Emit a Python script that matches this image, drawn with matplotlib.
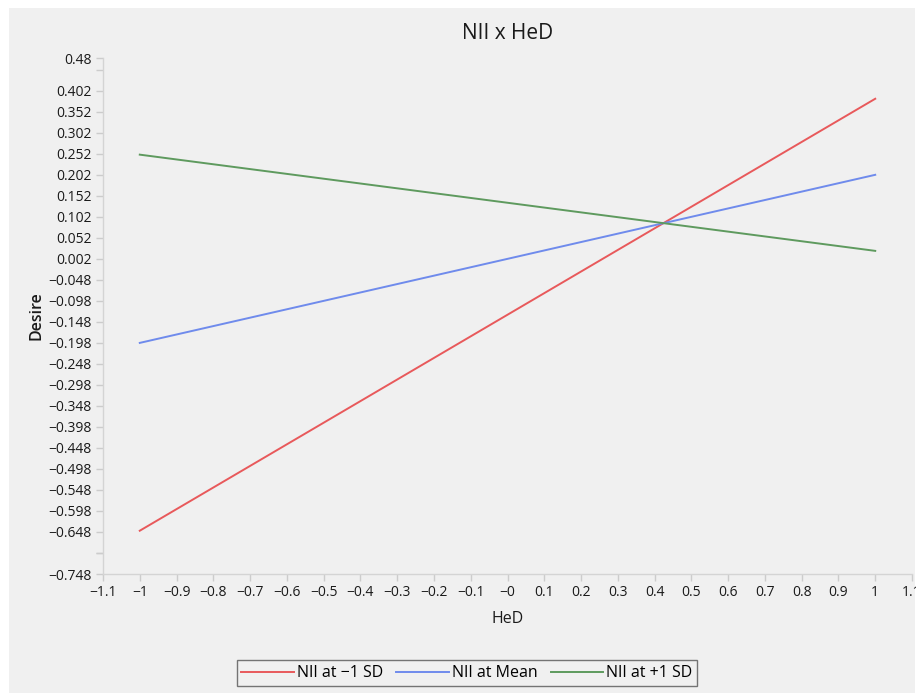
import numpy as np
import matplotlib.pyplot as plt
from matplotlib.patches import Rectangle

plt.rcParams['font.family'] = ['Open Sans', 'DejaVu Sans']

# simple slopes: HeD at -1 and +1 for each level of NII
hed = [-1, 1]
nii_low = [-0.645, 0.383]
nii_mean = [-0.198, 0.202]
nii_high = [0.250, 0.021]
series_names = ["NII at \u22121 SD", "NII at Mean", "NII at +1 SD"]
series_colors = ["#e8595b", "#6f8bec", "#5e9a5e"]

x_ticks = np.round(np.arange(-1.1, 1.11, 0.1), 1)
x_labels = ["\u22121.1", "\u22121", "\u22120.9", "\u22120.8", "\u22120.7", "\u22120.6", "\u22120.5",
            "\u22120.4", "\u22120.3", "\u22120.2", "\u22120.1", "\u22120", "0.1", "0.2", "0.3",
            "0.4", "0.5", "0.6", "0.7", "0.8", "0.9", "1", "1.1"]
y_ticks = [0.48, 0.452] + list(np.round(np.arange(0.402, -0.7, -0.05), 3)) + [-0.698, -0.748]
y_labels = []
for v in y_ticks:
    if v in (0.452, -0.698):
        y_labels.append("")
    else:
        y_labels.append(("%.3f" % v).rstrip("0").replace("-", "\u2212"))

bg = "#f0f0f0"
fig = plt.figure(figsize=(9.16, 6.93), dpi=100)
fig.patch.set_facecolor("white")
fig.patches.append(Rectangle((9 / 916, 0), 1 - 10 / 916, 1 - 8 / 693,
                             transform=fig.transFigure, facecolor=bg, edgecolor="none", zorder=-10))

ax = fig.add_axes([103 / 916, 1 - 574 / 693, 809 / 916, (574 - 58) / 693])
ax.set_facecolor(bg)

for ys, name, c in zip([nii_low, nii_mean, nii_high], series_names, series_colors):
    ax.plot(hed, ys, color=c, lw=1.4, label=name)

ax.set_xlim(-1.1, 1.1)
ax.set_ylim(-0.748, 0.48)
ax.set_xticks(x_ticks)
ax.set_xticklabels(x_labels)
ax.set_yticks(y_ticks)
ax.set_yticklabels(y_labels)
ax.tick_params(labelsize=10, color="#cccccc", length=5, width=1, pad=3, labelcolor="#1a1a1a")

for s in ["top", "right"]:
    ax.spines[s].set_visible(False)
for s in ["left", "bottom"]:
    ax.spines[s].set_color("#d4d4d4")
    ax.spines[s].set_linewidth(1)

ax.set_xlabel("HeD", fontsize=11.5, color="#1a1a1a", labelpad=8)
ax.set_ylabel("Desire", fontsize=11.5, fontweight="semibold", color="#1a1a1a", labelpad=3)
ax.set_title("NII x HeD", fontsize=15, color="#1a1a1a", pad=14)

leg = ax.legend(loc="lower center", bbox_to_anchor=(467 / 916, 1 - 686 / 693), bbox_transform=fig.transFigure,
                ncol=3, frameon=True, fancybox=False, fontsize=11.5, handlelength=3.3,
                handletextpad=0.2, columnspacing=0.8, borderpad=0.3, borderaxespad=0)
leg.get_frame().set_facecolor(bg)
leg.get_frame().set_edgecolor("#555555")
leg.get_frame().set_linewidth(1)

fig.savefig("out.png", dpi=100, facecolor=fig.get_facecolor())
